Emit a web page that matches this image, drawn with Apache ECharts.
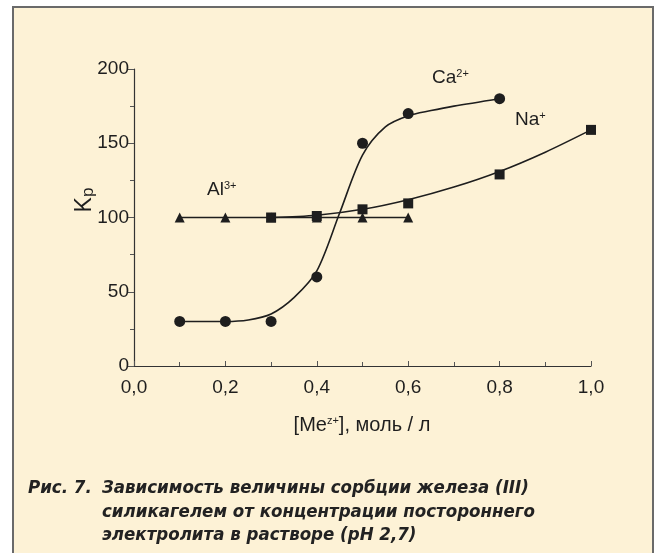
<!DOCTYPE html>
<html><head><meta charset="utf-8">
<script src="https://cdn.jsdelivr.net/npm/echarts@6/dist/echarts.min.js"></script>
<style>
html,body{margin:0;padding:0;background:#fff;overflow:hidden;}
#frame{position:absolute;left:12px;top:6px;width:638px;height:600px;background:#fdf2d6;border:2px solid #6a6a6a;border-bottom:none;}
#c{position:absolute;left:0;top:0;width:655px;height:553px;}
</style>
</head><body><div id="frame"></div><div id="c"></div>
<script>
// Ca2+ measured points and fitted curve
const caX = [0.1, 0.2, 0.3, 0.4, 0.5, 0.6, 0.8];
const caY = [30, 30, 30, 60, 150, 170, 180];
const caCurveX = [0.1, 0.2, 0.25, 0.3, 0.35, 0.4, 0.45, 0.5, 0.55, 0.6, 0.65, 0.7, 0.8];
const caCurveY = [30, 30, 31, 35, 46, 64, 103, 142, 161, 168.5, 172, 175, 180];
// Na+ measured points and fitted curve
const naX = [0.3, 0.4, 0.5, 0.6, 0.8, 1.0];
const naY = [100, 101, 105.5, 109.5, 129, 159];
const naCurveX = [0.3, 0.4, 0.5, 0.6, 0.7, 0.8, 0.9, 1.0];
const naCurveY = [100, 101.5, 105.5, 112, 120.5, 131, 144, 159];
// Al3+
const alX = [0.1, 0.2, 0.3, 0.4, 0.5, 0.6];
const alY = [100, 100, 100, 100, 100, 100];
// tick labels
const xTickLabels = ['0,0', '0,2', '0,4', '0,6', '0,8', '1,0'];
const yTickLabels = ['0', '50', '100', '150', '200'];
const captionLines = [
  'Рис. 7.',
  'Зависимость величины сорбции железа (III)',
  'силикагелем от концентрации постороннего',
  'электролита в растворе (pH 2,7)'
];

const zip = (xs, ys) => xs.map((x, i) => [x, ys[i]]);
const FONT = '"Liberation Sans", Arial, sans-serif';
const CAPFONT = '"DejaVu Sans Condensed", "Liberation Sans", sans-serif';
const INK = '#1e1e1e';

const chart = echarts.init(document.getElementById('c'), null, {renderer: 'canvas'});
const lineStyle = {color: INK, width: 1.6};
const mark = {color: INK, opacity: 1, borderWidth: 0};
const capStyle = t => ({text: t, fill: '#222', font: 'italic bold 18.5px ' + CAPFONT});

chart.setOption({
  backgroundColor: 'transparent',
  animation: false,
  grid: {left: 134, right: 64, top: 69, bottom: 187, containLabel: false},
  xAxis: {
    type: 'value', min: 0, max: 1, interval: 0.2,
    axisLine: {show: true, onZero: false, lineStyle: {color: '#333', width: 1.2}},
    axisTick: {show: true, inside: true, length: 5, lineStyle: {color: '#555'}},
    minorTick: {show: true, splitNumber: 2, length: 4, lineStyle: {color: '#555'}},
    splitLine: {show: false},
    axisLabel: {
      margin: 12, color: INK, fontSize: 19, fontFamily: FONT,
      formatter: v => xTickLabels[Math.round(v / 0.2)]
    }
  },
  yAxis: {
    type: 'value', min: 0, max: 200, interval: 50,
    axisLine: {show: true, onZero: false, lineStyle: {color: '#333', width: 1.2}},
    axisTick: {show: true, inside: false, length: 6, lineStyle: {color: '#555'}},
    minorTick: {show: true, splitNumber: 2, length: 4, lineStyle: {color: '#555'}},
    splitLine: {show: false},
    axisLabel: {
      margin: 5, color: INK, fontSize: 19, fontFamily: FONT,
      formatter: v => yTickLabels[Math.round(v / 50)]
    }
  },
  series: [
    {type: 'line', data: zip(caCurveX, caCurveY), smooth: 0.3, showSymbol: false, lineStyle, z: 2},
    {type: 'scatter', data: zip(caX, caY), symbol: 'circle', symbolSize: 11, itemStyle: mark, z: 3},
    {type: 'line', data: zip(naCurveX, naCurveY), smooth: 0.3, showSymbol: false, lineStyle, z: 2},
    {type: 'scatter', data: zip(naX, naY), symbol: 'rect', symbolSize: 10, itemStyle: mark, z: 3},
    {type: 'line', data: zip(alX, alY), symbol: 'triangle', symbolSize: 10, showAllSymbol: true,
     itemStyle: mark, lineStyle, z: 2}
  ],
  graphic: [
    {type: 'text', x: 207, y: 180, style: {
      text: '{a|Al}{s|3+}', rich: {a: {fontSize: 19, fontFamily: FONT, fill: INK},
      s: {fontSize: 11, fontFamily: FONT, fill: INK, verticalAlign: 'top'}}}},
    {type: 'text', x: 432, y: 68, style: {
      text: '{a|Ca}{s|2+}', rich: {a: {fontSize: 19, fontFamily: FONT, fill: INK},
      s: {fontSize: 11, fontFamily: FONT, fill: INK, verticalAlign: 'top'}}}},
    {type: 'text', x: 515, y: 110, style: {
      text: '{a|Na}{s|+}', rich: {a: {fontSize: 19, fontFamily: FONT, fill: INK},
      s: {fontSize: 11, fontFamily: FONT, fill: INK, verticalAlign: 'top'}}}},
    {type: 'text', x: 85, y: 200, rotation: Math.PI / 2, style: {
      text: '{k|K}{p|p}', align: 'center', verticalAlign: 'middle',
      rich: {k: {fontSize: 23, fontFamily: FONT, fill: INK},
             p: {fontSize: 17, fontFamily: FONT, fill: INK, verticalAlign: 'bottom'}}}},
    {type: 'text', x: 362, y: 425, style: {
      text: '{a|[Me}{s|z+}{a|], моль / л}', align: 'center', verticalAlign: 'middle',
      rich: {a: {fontSize: 20, fontFamily: FONT, fill: INK},
             s: {fontSize: 11, fontFamily: FONT, fill: INK, verticalAlign: 'top'}}}},
    {type: 'text', x: 28, y: 479, style: capStyle(captionLines[0])},
    {type: 'text', x: 102, y: 479, style: capStyle(captionLines[1])},
    {type: 'text', x: 102, y: 502.5, style: capStyle(captionLines[2])},
    {type: 'text', x: 102, y: 526, style: capStyle(captionLines[3])}
  ]
});
</script></body></html>
